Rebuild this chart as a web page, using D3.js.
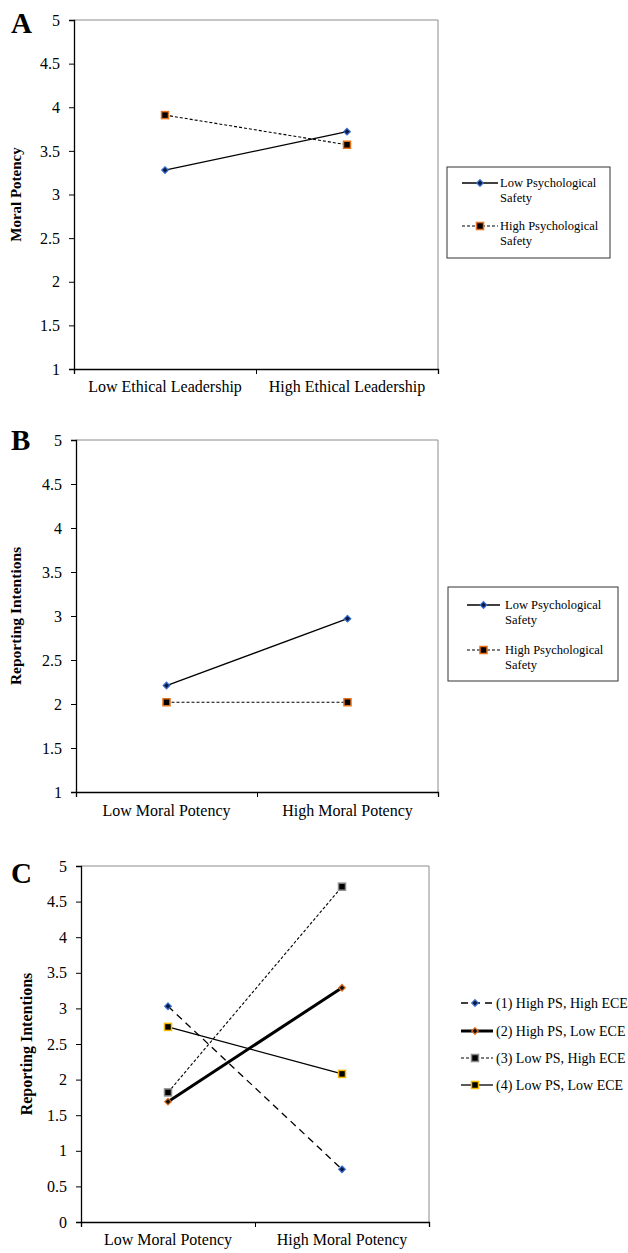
<!DOCTYPE html>
<html>
<head>
<meta charset="utf-8">
<script src="https://cdn.jsdelivr.net/npm/d3@7"></script>
<style>
  html, body { margin: 0; padding: 0; background: #fff; }
  svg { display: block; }
  svg text { font-family: "Liberation Serif", "Times New Roman", serif; }
</style>
</head>
<body>
<svg id="chart" width="628" height="1253"></svg>
<script>
// data
var catsA = ['Low Ethical Leadership', 'High Ethical Leadership'];
var catsBC = ['Low Moral Potency', 'High Moral Potency'];
var ticksAB = [1, 1.5, 2, 2.5, 3, 3.5, 4, 4.5, 5];
var ticksC = [0, 0.5, 1, 1.5, 2, 2.5, 3, 3.5, 4, 4.5, 5];

var namesAB = ['Low Psychological Safety', 'High Psychological Safety'];
var valuesA = [[3.28, 3.72], [3.91, 3.57]];
var valuesB = [[2.21, 2.97], [2.02, 2.02]];

var namesC = ['(1) High PS, High ECE', '(2) High PS, Low ECE', '(3) Low PS, High ECE', '(4) Low PS, Low ECE'];
var valuesC = [[3.03, 0.74], [1.69, 3.29], [1.82, 4.71], [2.74, 2.08]];

var svg = d3.select('#chart');
var FONT = 'Liberation Serif';

// series looks
var styleAB = [
  { dash: null, width: 1.3, shape: 'diamond', fill: '#0a1a40', stroke: '#3a6fd0' },
  { dash: '3,2', width: 1.1, shape: 'square', fill: '#000', stroke: '#e2701c' }
];
var styleC = [
  { dash: '7,5', width: 1.3, shape: 'diamond', fill: '#0a1a40', stroke: '#3a6fd0' },
  { dash: null, width: 3, shape: 'diamond', fill: '#111', stroke: '#e2701c' },
  { dash: '3,2', width: 1.1, shape: 'square', fill: '#000', stroke: '#8a8a8a' },
  { dash: null, width: 1.3, shape: 'square', fill: '#000', stroke: '#f5b800' }
];

function marker(g, cx, cy, st) {
  if (st.shape === 'diamond') {
    g.append('path')
      .attr('d', d3.symbol().type(d3.symbolDiamond2).size(28)())
      .attr('transform', 'translate(' + cx + ',' + cy + ')')
      .attr('fill', st.fill).attr('stroke', st.stroke).attr('stroke-width', 1.2);
  } else {
    g.append('rect').attr('x', cx - 3.5).attr('y', cy - 3.5).attr('width', 7).attr('height', 7)
      .attr('fill', st.fill).attr('stroke', st.stroke).attr('stroke-width', 1.5);
  }
}

function drawPanel(p) {
  var x = d3.scaleBand().domain(p.cats).range([p.left, p.right]);
  var xEdge = d3.scaleLinear().domain([0, p.cats.length]).range([p.left, p.right]);
  var y = d3.scaleLinear().domain([p.ticks[0], p.ticks[p.ticks.length - 1]]).range([p.bottom, p.top]);
  var cx = function (i) { return x(p.cats[i]) + x.bandwidth() / 2; };

  // gray frame top / right
  svg.append('path')
    .attr('d', 'M' + p.left + ',' + p.top + 'H' + p.right + 'V' + p.bottom)
    .attr('fill', 'none').attr('stroke', '#8c8c8c').attr('stroke-width', 1);

  // y axis
  var ya = svg.append('g').attr('transform', 'translate(' + p.left + ',0)')
    .call(d3.axisLeft(y).tickValues(p.ticks).tickSize(5).tickPadding(9)
      .tickFormat(function (d) { return String(d); }))
    .attr('font-family', FONT).attr('font-size', 16);
  ya.select('.domain').attr('stroke', '#000').attr('stroke-width', 1.3);
  ya.selectAll('.tick line').attr('stroke', '#000');
  ya.selectAll('text').attr('fill', '#000');

  // x axis: edge ticks + category labels
  var xa = svg.append('g').attr('transform', 'translate(0,' + p.bottom + ')')
    .call(d3.axisBottom(xEdge).tickValues(d3.range(p.cats.length + 1)).tickSize(5).tickFormat(''));
  xa.select('.domain').attr('stroke', '#000').attr('stroke-width', 1.3);
  xa.selectAll('.tick line').attr('stroke', '#000');
  var xl = svg.append('g').attr('transform', 'translate(0,' + p.bottom + ')')
    .call(d3.axisBottom(x).tickSize(0).tickPadding(p.labelPad))
    .attr('font-family', FONT).attr('font-size', 16);
  xl.select('.domain').remove();
  xl.selectAll('text').attr('fill', '#000');

  // y title
  svg.append('text')
    .attr('transform', 'translate(' + p.titleX + ',' + ((p.top + p.bottom) / 2) + ') rotate(-90)')
    .attr('text-anchor', 'middle').attr('dy', '0.35em')
    .attr('font-weight', 'bold').attr('font-size', p.titleSize)
    .text(p.title);

  // panel letter
  svg.append('text').attr('x', 11).attr('y', p.letterY)
    .attr('font-weight', 'bold').attr('font-size', 29).text(p.letter);

  // series
  p.values.forEach(function (vals, k) {
    var st = p.styles[k];
    var line = d3.line().x(function (d, i) { return cx(i); }).y(function (d) { return y(d); });
    svg.append('path').datum(vals).attr('d', line)
      .attr('fill', 'none').attr('stroke', '#000').attr('stroke-width', st.width)
      .attr('stroke-dasharray', st.dash);
  });
  p.values.forEach(function (vals, k) {
    vals.forEach(function (v, i) { marker(svg, cx(i), y(v), p.styles[k]); });
  });
}

function drawBoxLegend(l) {
  svg.append('rect').attr('x', l.x).attr('y', l.y).attr('width', l.w).attr('height', l.h)
    .attr('fill', '#fff').attr('stroke', '#333').attr('stroke-width', 1);
  l.names.forEach(function (name, k) {
    var st = l.styles[k];
    var ly = l.rowY[k];
    svg.append('line').attr('x1', l.lineX0).attr('x2', l.lineX1).attr('y1', ly).attr('y2', ly)
      .attr('stroke', '#000').attr('stroke-width', st.width).attr('stroke-dasharray', st.dash);
    marker(svg, (l.lineX0 + l.lineX1) / 2, ly, st);
    var words = name.split(' ');
    var t = svg.append('text').attr('x', l.textX).attr('y', ly + 4).attr('font-size', 12.5);
    t.append('tspan').attr('x', l.textX).text(words.slice(0, -1).join(' '));
    t.append('tspan').attr('x', l.textX).attr('dy', 15).text(words[words.length - 1]);
  });
}

drawPanel({
  letter: 'A', letterY: 33, cats: catsA, ticks: ticksAB, values: valuesA, styles: styleAB,
  left: 74, right: 438, top: 20, bottom: 369, labelPad: 12,
  title: 'Moral Potency', titleX: 16, titleSize: 15
});
drawBoxLegend({
  x: 447, y: 167, w: 163, h: 91, names: namesAB, styles: styleAB,
  rowY: [183, 226], lineX0: 462, lineX1: 498, textX: 500
});

drawPanel({
  letter: 'B', letterY: 450, cats: catsBC, ticks: ticksAB, values: valuesB, styles: styleAB,
  left: 76, right: 438, top: 440, bottom: 792, labelPad: 13,
  title: 'Reporting Intentions', titleX: 16, titleSize: 15.5
});
drawBoxLegend({
  x: 448, y: 587, w: 170, h: 94, names: namesAB, styles: styleAB,
  rowY: [605, 650], lineX0: 467, lineX1: 500, textX: 505
});

drawPanel({
  letter: 'C', letterY: 883, cats: catsBC, ticks: ticksC, values: valuesC, styles: styleC,
  left: 81, right: 429, top: 866, bottom: 1222, labelPad: 12,
  title: 'Reporting Intentions', titleX: 26, titleSize: 16
});

// legend C (no box)
var legRowsC = [1003, 1031, 1058, 1085];
namesC.forEach(function (name, k) {
  var st = styleC[k];
  var ly = legRowsC[k];
  svg.append('line').attr('x1', 461).attr('x2', 493).attr('y1', ly).attr('y2', ly)
    .attr('stroke', '#000').attr('stroke-width', st.width).attr('stroke-dasharray', st.dash);
  marker(svg, 475, ly, st);
  svg.append('text').attr('x', 496).attr('y', ly + 4.5).attr('font-size', 14).text(name);
});
</script>
</body>
</html>
